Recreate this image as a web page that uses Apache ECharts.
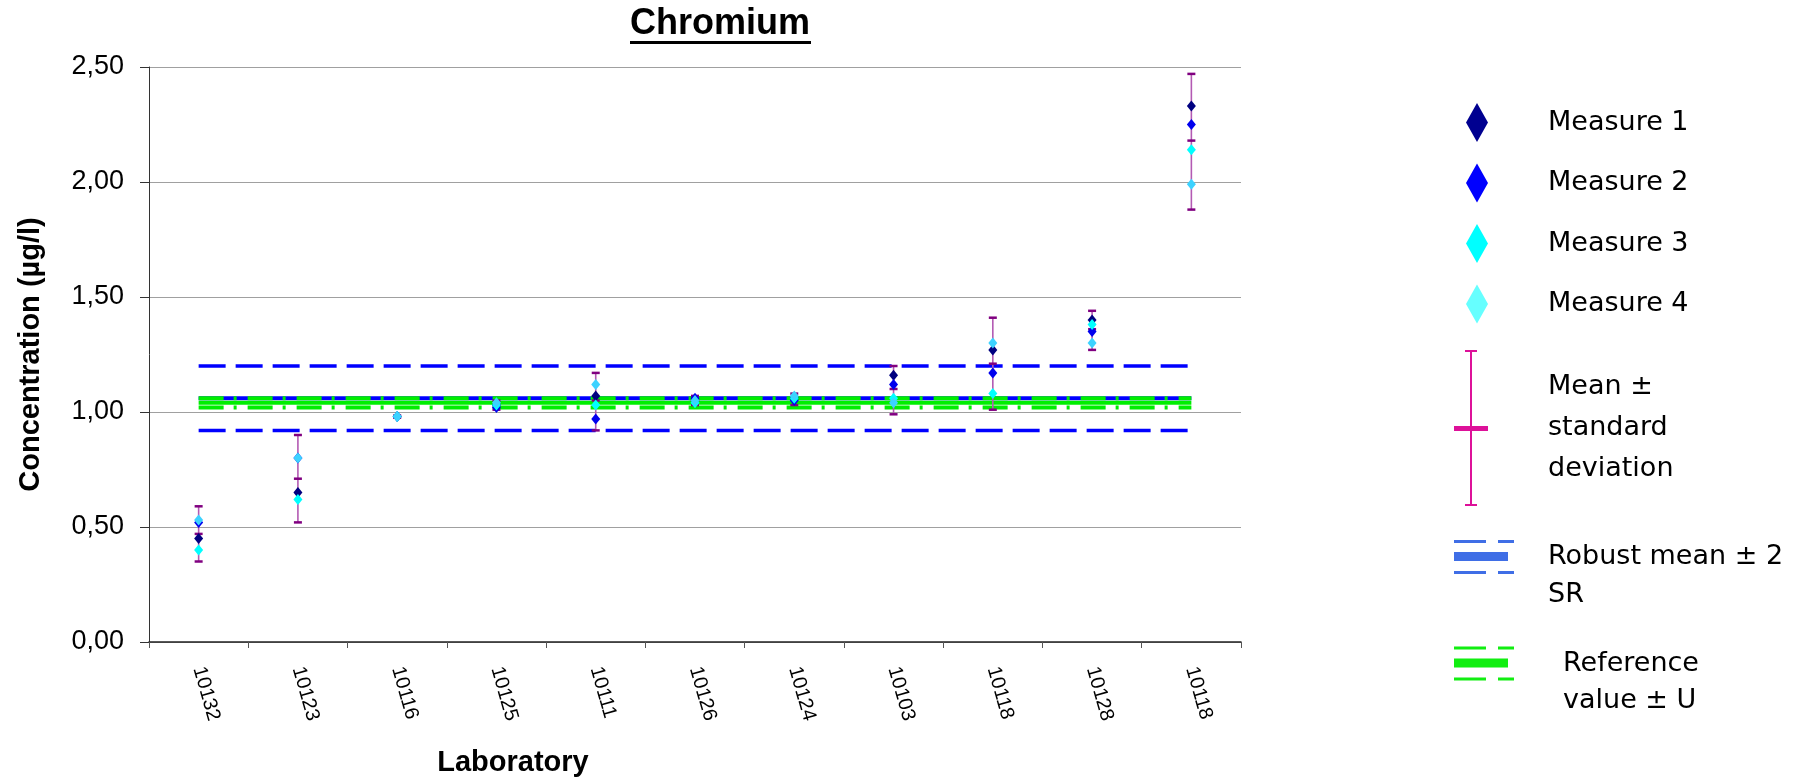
<!DOCTYPE html>
<html>
<head>
<meta charset="utf-8">
<script src="https://cdn.jsdelivr.net/npm/echarts@6/dist/echarts.min.js"></script>
<style>
html,body{margin:0;padding:0;background:#fff;}
#chart{width:1800px;height:782px;}
</style>
</head>
<body>
<div id="chart"></div>
<script>
// ---- data ----
var labs = ['10132','10123','10116','10125','10111','10126','10124','10103','10118','10128','10118'];
var measure1 = [0.45, 0.65, 0.98, 1.03, 1.07, 1.05, 1.06, 1.16, 1.27, 1.40, 2.33];
var measure2 = [0.52, 0.80, 0.98, 1.02, 0.97, 1.06, 1.05, 1.12, 1.17, 1.35, 2.25];
var measure3 = [0.40, 0.62, 0.98, 1.03, 1.03, 1.04, 1.06, 1.06, 1.08, 1.38, 2.14];
var measure4 = [0.53, 0.80, 0.98, 1.04, 1.12, 1.05, 1.07, 1.04, 1.30, 1.30, 1.99];
var errMean  = [0.47, 0.71, 0.98, 1.03, 1.05, 1.05, 1.06, 1.10, 1.21, 1.36, 2.18];
var errLow   = [0.35, 0.52, 0.975, 1.01, 0.92, 1.03, 1.03, 0.99, 1.01, 1.27, 1.88];
var errHigh  = [0.59, 0.90, 0.985, 1.05, 1.17, 1.07, 1.08, 1.20, 1.41, 1.44, 2.47];
var robustMean = 1.06, robustLow = 0.92, robustHigh = 1.20;
var refValue = 1.04, refLow = 1.02, refHigh = 1.06;
var yTicks = [0, 0.5, 1.0, 1.5, 2.0, 2.5];
var yTickLabels = ['0,00', '0,50', '1,00', '1,50', '2,00', '2,50'];

var chart = echarts.init(document.getElementById('chart'), null, {renderer: 'canvas'});

function pts(arr) { return arr.map(function (v, i) { return [i, v]; }); }
function hline(v) { return [[0, v], [labs.length - 1, v]]; }

var NAME_M = ['Measure 1', 'Measure 2', 'Measure 3', 'Measure 4'];
var NAME_ERR = 'Mean ± standard deviation';
var NAME_ROB = 'Robust mean ± 2 SR';
var NAME_REF = 'Reference value ± U';

var legendText = {
  'Measure 1': 'Measure 1', 'Measure 2': 'Measure 2', 'Measure 3': 'Measure 3', 'Measure 4': 'Measure 4'
};
legendText[NAME_ERR] = 'Mean ±\nstandard\ndeviation';
legendText[NAME_ROB] = '\nRobust mean ± 2\nSR';
legendText[NAME_REF] = '\nReference\nvalue ± U';

var legendFont = {fontFamily: 'DejaVu Sans', fontSize: 27, color: '#000'};

var errPath = 'path://M11,0h12v2h-12z M16,0h2v156h-2z M11,154h12v2h-12z M0,76h34v5h-34z';
var bandPath = 'path://M0,0h32v3h-32z M44,0h16v3h-16z M0,12h54v9h-54z M0,31h32v3h-32z M44,31h16v3h-16z';

var option = {
  backgroundColor: '#ffffff',
  animation: false,
  title: {
    text: 'Chromium',
    left: 630, top: 6, padding: 0,
    textStyle: {fontFamily: 'Liberation Sans', fontWeight: 'bold', fontSize: 36, color: '#000'}
  },
  graphic: [
    {type: 'rect', left: 630, top: 41, shape: {width: 181, height: 3}, style: {fill: '#000'}, silent: true}
  ],
  grid: {left: 149, right: 559, top: 67, bottom: 135, containLabel: false},
  legend: [
    {
      orient: 'vertical', left: 1466, top: 103, padding: 0,
      itemWidth: 22, itemHeight: 39, itemGap: 21.5,
      selectedMode: false,
      formatter: function (n) { return legendText[n]; },
      textStyle: Object.assign({padding: [0, 0, 0, 55]}, legendFont),
      data: [
        {name: 'Measure 1', icon: 'diamond', itemStyle: {color: '#000090'}},
        {name: 'Measure 2', icon: 'diamond', itemStyle: {color: '#0000ff'}},
        {name: 'Measure 3', icon: 'diamond', itemStyle: {color: '#00ffff'}},
        {name: 'Measure 4', icon: 'diamond', itemStyle: {color: '#66ffff'}}
      ]
    },
    {
      orient: 'vertical', left: 1454, top: 350, padding: 0,
      itemWidth: 34, itemHeight: 156,
      selectedMode: false,
      formatter: function (n) { return legendText[n]; },
      textStyle: Object.assign({padding: [0, 0, 0, 55], lineHeight: 41}, legendFont),
      data: [{name: NAME_ERR, icon: errPath, itemStyle: {color: '#dd1199', borderWidth: 0}}]
    },
    {
      orient: 'vertical', left: 1454, top: 500, padding: 0,
      itemWidth: 60, itemHeight: 34,
      selectedMode: false,
      formatter: function (n) { return legendText[n]; },
      textStyle: Object.assign({padding: [0, 0, 0, 29], lineHeight: 38}, legendFont),
      data: [{name: NAME_ROB, icon: bandPath, itemStyle: {color: '#3f6ee6', borderWidth: 0, borderColor: 'transparent'}}]
    },
    {
      orient: 'vertical', left: 1454, top: 608, padding: 0,
      itemWidth: 60, itemHeight: 34,
      selectedMode: false,
      formatter: function (n) { return legendText[n]; },
      textStyle: Object.assign({padding: [0, 0, 0, 44], lineHeight: 37}, legendFont),
      data: [{name: NAME_REF, icon: bandPath, itemStyle: {color: '#11ee11', borderWidth: 0, borderColor: 'transparent'}}]
    }
  ],
  xAxis: {
    type: 'category',
    data: labs,
    boundaryGap: true,
    name: 'Laboratory',
    nameLocation: 'middle',
    nameGap: 106,
    nameTextStyle: {fontFamily: 'Liberation Sans', fontWeight: 'bold', fontSize: 29, color: '#000', padding: [0, 364, 0, 0]},
    axisLine: {show: true, lineStyle: {color: '#222', width: 1.5}},
    axisTick: {show: true, alignWithLabel: false, length: 6, lineStyle: {color: '#555'}},
    axisLabel: {interval: 0, rotate: -74, margin: 25, fontFamily: 'Liberation Sans', fontSize: 20, color: '#000'},
    splitLine: {show: false}
  },
  yAxis: {
    type: 'value',
    min: 0, max: 2.5, interval: 0.5,
    name: 'Concentration (µg/l)',
    nameLocation: 'middle',
    nameGap: 104,
    nameTextStyle: {fontFamily: 'Liberation Sans', fontWeight: 'bold', fontSize: 29, color: '#000'},
    axisLine: {show: true, lineStyle: {color: '#333', width: 1}},
    axisTick: {show: true, length: 9, lineStyle: {color: '#333'}},
    axisLabel: {
      margin: 25, fontFamily: 'Liberation Sans', fontSize: 27, color: '#000',
      formatter: function (v) {
        var i = yTicks.indexOf(Math.round(v * 100) / 100);
        return i >= 0 ? yTickLabels[i] : '';
      }
    },
    splitLine: {show: true, lineStyle: {color: '#a0a0a0', width: 1}}
  },
  series: [
    // robust mean +- 2 SR (blue)
    {name: NAME_ROB, type: 'line', data: hline(robustMean), symbol: 'none', silent: true, z: 2,
      lineStyle: {color: '#0000ff', width: 4}, itemStyle: {color: '#0000ff'}},
    {name: NAME_ROB, type: 'line', data: hline(robustHigh), symbol: 'none', silent: true, z: 2,
      lineStyle: {color: '#0000ff', width: 3.5, type: [27, 10]}, itemStyle: {color: '#0000ff'}},
    {name: NAME_ROB, type: 'line', data: hline(robustLow), symbol: 'none', silent: true, z: 2,
      lineStyle: {color: '#0000ff', width: 3.5, type: [27, 10]}, itemStyle: {color: '#0000ff'}},
    // reference value +- U (green)
    {name: NAME_REF, type: 'line', data: hline(refValue), symbol: 'none', silent: true, z: 3,
      lineStyle: {color: '#00ee00', width: 4}, itemStyle: {color: '#00ee00'}},
    {name: NAME_REF, type: 'line', data: hline(refHigh), symbol: 'none', silent: true, z: 3,
      lineStyle: {color: '#00ee00', width: 4, type: [25, 10, 3, 11]}, itemStyle: {color: '#00ee00'}},
    {name: NAME_REF, type: 'line', data: hline(refLow), symbol: 'none', silent: true, z: 3,
      lineStyle: {color: '#00ee00', width: 4, type: [25, 10, 3, 11]}, itemStyle: {color: '#00ee00'}},
    // mean +- sd error bars
    {
      name: NAME_ERR, type: 'custom', z: 4, silent: true,
      itemStyle: {color: '#dd1199'},
      encode: {x: 0, y: [1, 2, 3]},
      data: labs.map(function (_, i) { return [i, errLow[i], errHigh[i], errMean[i]]; }),
      renderItem: function (params, api) {
        var x = api.value(0);
        var pLo = api.coord([x, api.value(1)]);
        var pHi = api.coord([x, api.value(2)]);
        var pMid = api.coord([x, api.value(3)]);
        var hw = 4;
        var cap = {stroke: '#800080', lineWidth: 2.5};
        return {
          type: 'group',
          children: [
            {type: 'line', shape: {x1: pHi[0], y1: pHi[1], x2: pLo[0], y2: pLo[1]}, style: {stroke: '#b35ab3', lineWidth: 1.6}},
            {type: 'line', shape: {x1: pHi[0] - hw, y1: pHi[1], x2: pHi[0] + hw, y2: pHi[1]}, style: cap},
            {type: 'line', shape: {x1: pLo[0] - hw, y1: pLo[1], x2: pLo[0] + hw, y2: pLo[1]}, style: cap},
            {type: 'line', shape: {x1: pMid[0] - hw, y1: pMid[1], x2: pMid[0] + hw, y2: pMid[1]}, style: cap}
          ]
        };
      }
    },
    {name: NAME_M[0], type: 'scatter', symbol: 'diamond', symbolSize: [9, 11], z: 5, data: pts(measure1), itemStyle: {color: '#000080', opacity: 1}},
    {name: NAME_M[1], type: 'scatter', symbol: 'diamond', symbolSize: [9, 11], z: 5, data: pts(measure2), itemStyle: {color: '#0000ee', opacity: 1}},
    {name: NAME_M[2], type: 'scatter', symbol: 'diamond', symbolSize: [9, 11], z: 5, data: pts(measure3), itemStyle: {color: '#00ffff', opacity: 1}},
    {name: NAME_M[3], type: 'scatter', symbol: 'diamond', symbolSize: [9, 11], z: 5, data: pts(measure4), itemStyle: {color: '#3cd2ff', opacity: 1}}
  ]
};
chart.setOption(option);
</script>
</body>
</html>
